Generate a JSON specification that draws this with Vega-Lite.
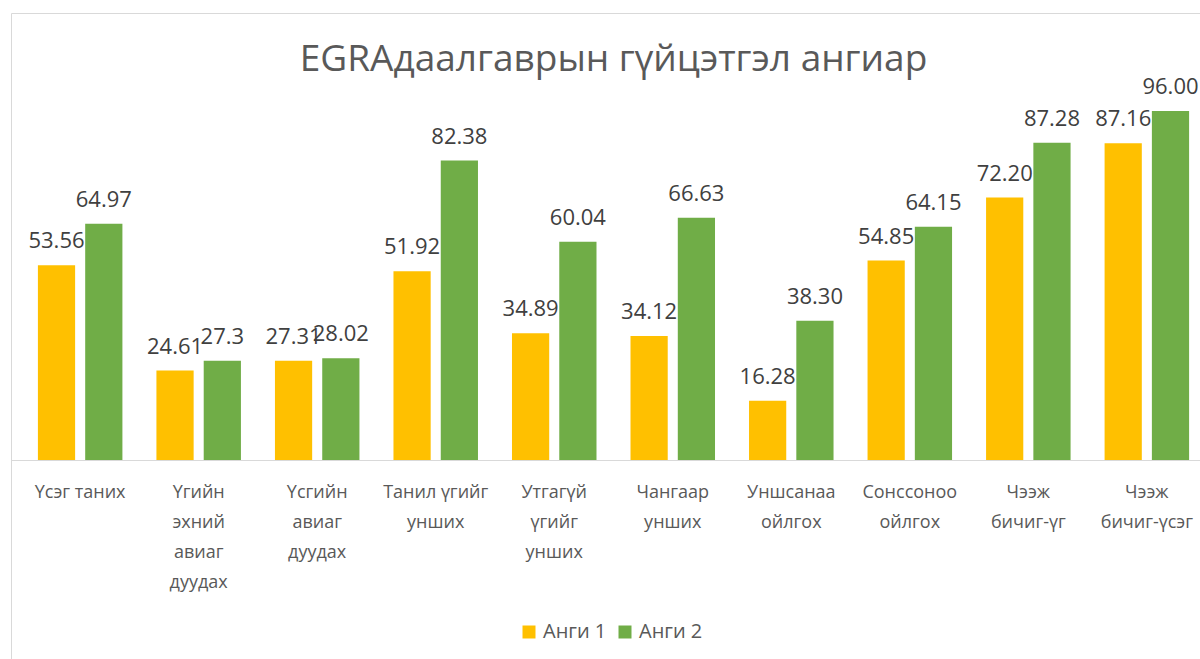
{
  "$schema": "https://vega.github.io/schema/vega-lite/v6.json",
  "width": 1205,
  "height": 700,
  "autosize": {"type": "none"},
  "padding": {"left": 11, "top": 13, "right": 0, "bottom": 0},
  "background": "white",
  "title": {
    "text": "EGRAдаалгаврын гүйцэтгэл ангиар",
    "font": "Open Sans",
    "fontSize": 37,
    "fontWeight": "normal",
    "color": "#595959",
    "anchor": "middle",
    "baseline": "alphabetic",
    "offset": -95
  },
  "config": {
    "view": {"stroke": "#d9d9d9", "strokeWidth": 1},
    "font": "Open Sans"
  },
  "data": {
    "values": [
      {"category": "Үсэг таних", "series": "Анги 1", "value": 53.56, "label": "53.56"},
      {"category": "Үсэг таних", "series": "Анги 2", "value": 64.97, "label": "64.97"},
      {"category": "Үгийн|эхний|авиаг|дуудах", "series": "Анги 1", "value": 24.61, "label": "24.61"},
      {"category": "Үгийн|эхний|авиаг|дуудах", "series": "Анги 2", "value": 27.3, "label": "27.3"},
      {"category": "Үсгийн|авиаг|дуудах", "series": "Анги 1", "value": 27.31, "label": "27.31"},
      {"category": "Үсгийн|авиаг|дуудах", "series": "Анги 2", "value": 28.02, "label": "28.02"},
      {"category": "Танил үгийг|унших", "series": "Анги 1", "value": 51.92, "label": "51.92"},
      {"category": "Танил үгийг|унших", "series": "Анги 2", "value": 82.38, "label": "82.38"},
      {"category": "Утгагүй|үгийг|унших", "series": "Анги 1", "value": 34.89, "label": "34.89"},
      {"category": "Утгагүй|үгийг|унших", "series": "Анги 2", "value": 60.04, "label": "60.04"},
      {"category": "Чангаар|унших", "series": "Анги 1", "value": 34.12, "label": "34.12"},
      {"category": "Чангаар|унших", "series": "Анги 2", "value": 66.63, "label": "66.63"},
      {"category": "Уншсанаа|ойлгох", "series": "Анги 1", "value": 16.28, "label": "16.28"},
      {"category": "Уншсанаа|ойлгох", "series": "Анги 2", "value": 38.30, "label": "38.30"},
      {"category": "Сонссоноо|ойлгох", "series": "Анги 1", "value": 54.85, "label": "54.85"},
      {"category": "Сонссоноо|ойлгох", "series": "Анги 2", "value": 64.15, "label": "64.15"},
      {"category": "Чээж|бичиг-үг", "series": "Анги 1", "value": 72.20, "label": "72.20"},
      {"category": "Чээж|бичиг-үг", "series": "Анги 2", "value": 87.28, "label": "87.28"},
      {"category": "Чээж|бичиг-үсэг", "series": "Анги 1", "value": 87.16, "label": "87.16"},
      {"category": "Чээж|бичиг-үсэг", "series": "Анги 2", "value": 96.00, "label": "96.00"}
    ]
  },
  "encoding": {
    "x": {
      "field": "category",
      "type": "nominal",
      "sort": null,
      "scale": {"paddingInner": 0.287, "paddingOuter": 0.227},
      "axis": {
        "orient": "bottom",
        "offset": -253,
        "title": null,
        "ticks": false,
        "domainColor": "#d9d9d9",
        "domainWidth": 1,
        "labelAngle": 0,
        "labelFont": "Open Sans",
        "labelFontSize": 18,
        "labelColor": "#595959",
        "labelLineHeight": 30,
        "labelPadding": 23,
        "labelLimit": 0,
        "labelOverlap": false,
        "labelExpr": "split(datum.label, '|')",
        "grid": false
      }
    },
    "xOffset": {
      "field": "series",
      "type": "nominal",
      "scale": {"paddingInner": 0.213, "paddingOuter": 0}
    },
    "y": {
      "field": "value",
      "type": "quantitative",
      "scale": {"domain": [-69.60, 122.97], "nice": false, "zero": false},
      "axis": null
    }
  },
  "layer": [
    {
      "mark": {"type": "bar"},
      "encoding": {
        "y2": {"datum": 0},
        "color": {
          "field": "series",
          "type": "nominal",
          "scale": {"domain": ["Анги 1", "Анги 2"], "range": ["#FFC000", "#70AD47"]},
          "legend": {
            "orient": "none",
            "legendX": 508,
            "legendY": 609,
            "direction": "horizontal",
            "title": null,
            "symbolType": "square",
            "symbolSize": 169,
            "symbolStrokeWidth": 0,
            "labelFont": "Open Sans",
            "labelFontSize": 20,
            "labelColor": "#595959",
            "labelOffset": 4,
            "columnPadding": 8
          }
        }
      }
    },
    {
      "mark": {
        "type": "text",
        "baseline": "alphabetic",
        "dy": -17,
        "fontSize": 22,
        "font": "Open Sans",
        "color": "#404040"
      },
      "encoding": {
        "text": {"field": "label", "type": "nominal"}
      }
    }
  ]
}
